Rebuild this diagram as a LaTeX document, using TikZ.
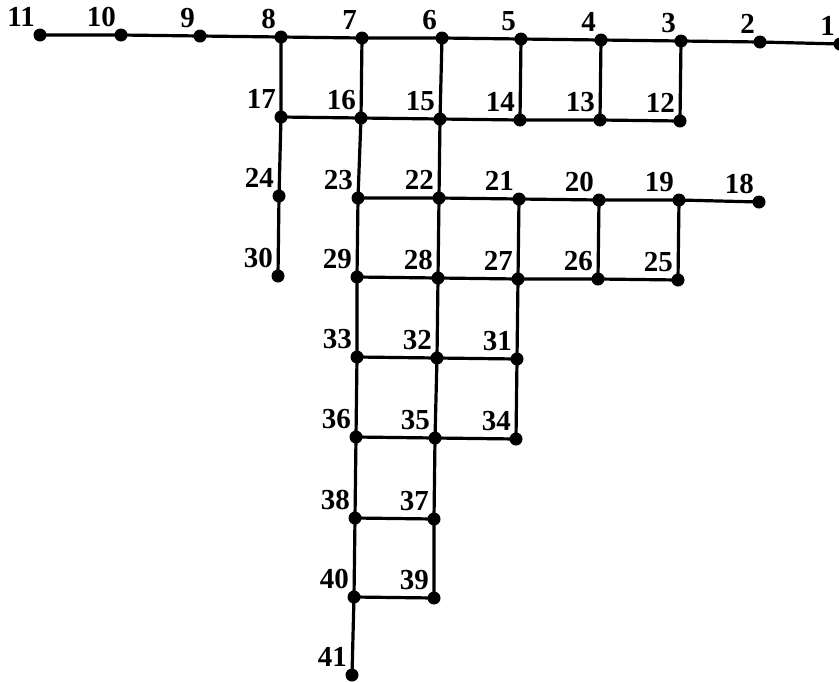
\documentclass[tikz,border=0pt]{standalone}
\usepackage{fontspec}
\setmainfont{Liberation Serif}
\begin{document}
\begin{tikzpicture}[x=1pt,y=1pt,
  dot/.style={circle,fill=black,inner sep=0pt,minimum size=13pt},
  lab/.style={font=\fontsize{29}{29}\selectfont\bfseries,inner sep=0pt,anchor=base east},
  edge/.style={line width=3.2pt}]
\useasboundingbox (0,0) rectangle (839,-681);
\newcommand\V[3]{\node[dot] (n#1) at (#2,-#3) {}; \node[lab] (l#1) at (#2-5,-#3+8.5) {#1};}
\V{1}{840}{44}\V{2}{760}{42}\V{3}{681}{41}\V{4}{601}{40}\V{5}{521}{39}
\V{6}{442}{38}\V{7}{362}{38}\V{8}{281}{37}\V{9}{200}{36}\V{10}{121}{35}\V{11}{40}{35}
\V{17}{281}{117}\V{16}{361}{118}\V{15}{440}{119}\V{14}{520}{120}\V{13}{600}{120}\V{12}{680}{121}
\V{24}{279}{196}\V{23}{358}{198}\V{22}{439}{198}\V{21}{519}{199}\V{20}{599}{200}\V{19}{679}{200}\V{18}{759}{202}
\V{30}{278}{276}\V{29}{357}{277}\V{28}{438}{278}\V{27}{518}{279}\V{26}{598}{279}\V{25}{678}{280}
\V{33}{357}{357}\V{32}{437}{358}\V{31}{517}{359}
\V{36}{356}{437}\V{35}{435}{438}\V{34}{516}{439}
\V{38}{355}{518}\V{37}{434}{519}
\V{40}{354}{597}\V{39}{434}{598}
\V{41}{352}{675}
\begin{scope}[on background layer/.try]
\draw[edge] (n11.center)--(n10.center)--(n9.center)--(n8.center)--(n7.center)--(n6.center)--(n5.center)--(n4.center)--(n3.center)--(n2.center)--(n1.center);
\draw[edge] (n17.center)--(n16.center)--(n15.center)--(n14.center)--(n13.center)--(n12.center);
\draw[edge] (n23.center)--(n22.center)--(n21.center)--(n20.center)--(n19.center)--(n18.center);
\draw[edge] (n29.center)--(n28.center)--(n27.center)--(n26.center)--(n25.center);
\draw[edge] (n33.center)--(n32.center)--(n31.center);
\draw[edge] (n36.center)--(n35.center)--(n34.center);
\draw[edge] (n38.center)--(n37.center);
\draw[edge] (n40.center)--(n39.center);
\draw[edge] (n8.center)--(n17.center)--(n24.center)--(n30.center);
\draw[edge] (n7.center)--(n16.center)--(n23.center)--(n29.center)--(n33.center)--(n36.center)--(n38.center)--(n40.center)--(n41.center);
\draw[edge] (n6.center)--(n15.center)--(n22.center)--(n28.center)--(n32.center)--(n35.center)--(n37.center)--(n39.center);
\draw[edge] (n5.center)--(n14.center);
\draw[edge] (n4.center)--(n13.center);
\draw[edge] (n3.center)--(n12.center);
\draw[edge] (n21.center)--(n27.center)--(n31.center)--(n34.center);
\draw[edge] (n20.center)--(n26.center);
\draw[edge] (n19.center)--(n25.center);
\end{scope}
\end{tikzpicture}
\end{document}
